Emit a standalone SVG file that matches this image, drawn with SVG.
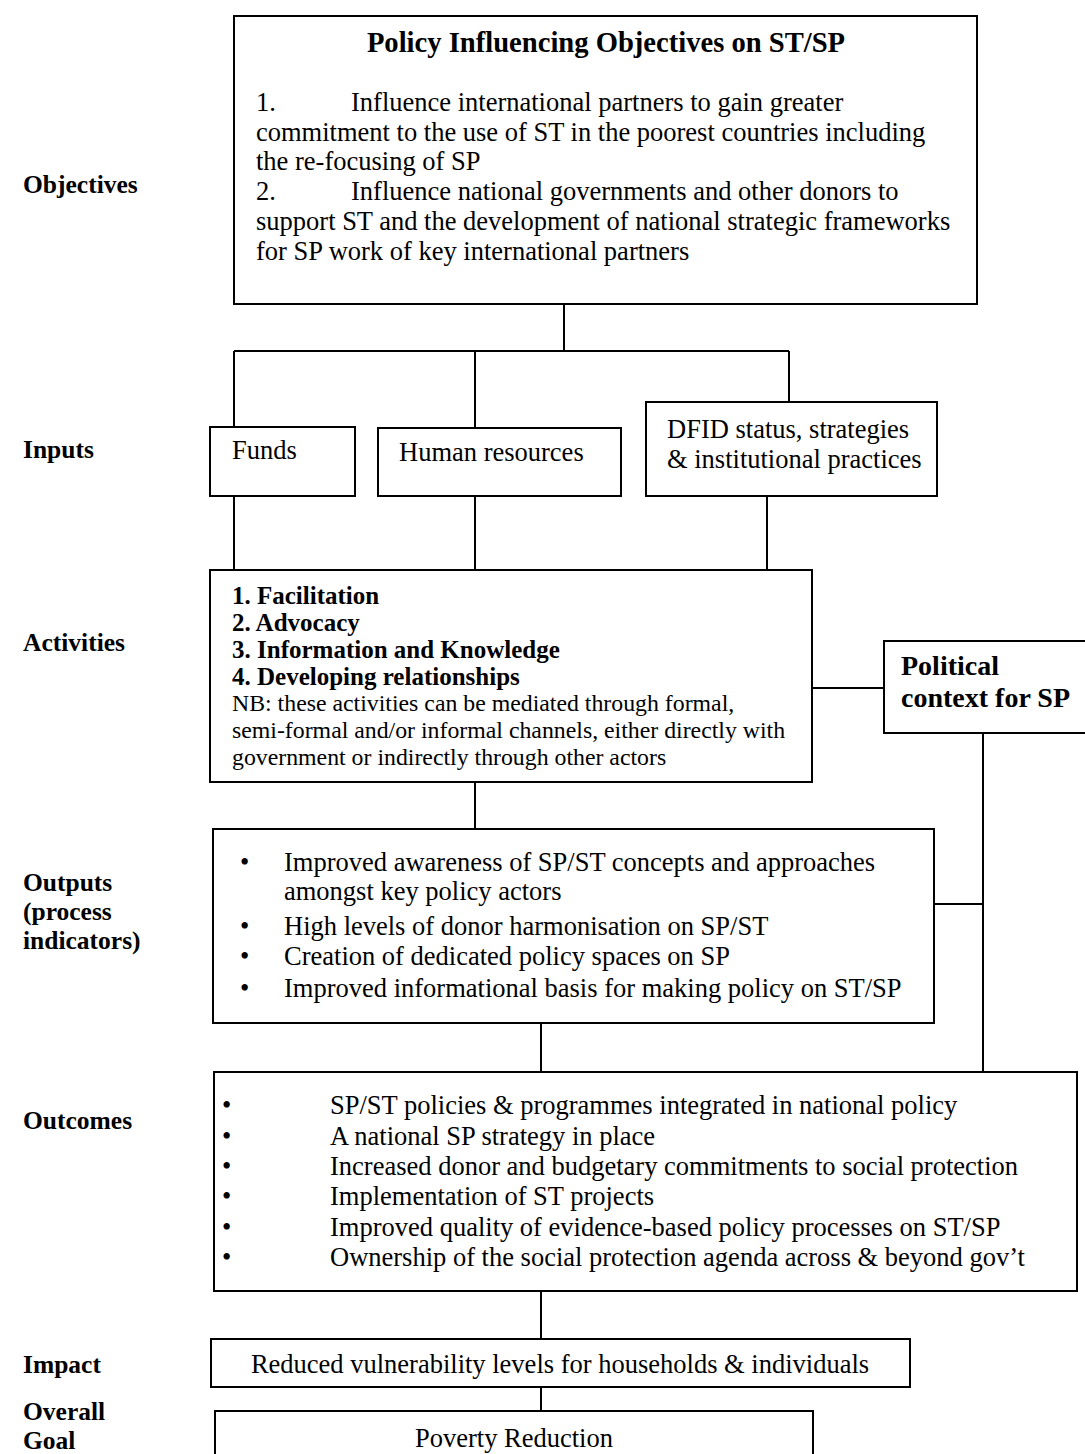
<svg xmlns="http://www.w3.org/2000/svg" width="1085" height="1454" viewBox="0 0 1085 1454">
<style>
  text { font-family: "Liberation Serif", "Times New Roman", serif; fill: #000; }
  .box { fill: #fff; stroke: #000; stroke-width: 2; }
  .conn { fill: none; stroke: #000; stroke-width: 2; }
  .lbl { font-weight: bold; font-size: 25.5px; }
  .body { font-size: 26.5px; }
  .act { font-size: 23.8px; }
  .actb { font-size: 25px; font-weight: bold; }
  .ttl { font-size: 28.6px; font-weight: bold; }
  .pol { font-size: 28px; font-weight: bold; }
</style>
<rect width="1085" height="1454" fill="#fff"/>

<g id="labels">
  <text class="lbl" x="23" y="193">Objectives</text>
  <text class="lbl" x="23" y="458">Inputs</text>
  <text class="lbl" x="23" y="651">Activities</text>
  <text class="lbl" x="23" y="891">Outputs</text>
  <text class="lbl" x="23" y="920">(process</text>
  <text class="lbl" x="23" y="949">indicators)</text>
  <text class="lbl" x="23" y="1129">Outcomes</text>
  <text class="lbl" x="23" y="1373">Impact</text>
  <text class="lbl" x="23" y="1420">Overall</text>
  <text class="lbl" x="23" y="1449">Goal</text>
</g>

<g id="connectors">
  <path class="conn" d="M564,304 V351 M234,351 H789 M234,351 V427 M475,351 V428 M789,351 V402"/>
  <path class="conn" d="M234,496 V570 M475,496 V570 M767,496 V570"/>
  <path class="conn" d="M812,688 H884"/>
  <path class="conn" d="M983,733 V1072 M934,904 H983"/>
  <path class="conn" d="M475,782 V829"/>
  <path class="conn" d="M541,1023 V1072"/>
  <path class="conn" d="M541,1291 V1339"/>
  <path class="conn" d="M541,1387 V1411"/>
</g>

<g id="objectives">
  <rect class="box" x="234" y="16" width="743" height="288"/>
  <text class="ttl" x="606" y="52" text-anchor="middle">Policy Influencing Objectives on ST/SP</text>
  <text class="body" x="256" y="111">1.</text>
  <text class="body" x="351" y="111">Influence international partners to gain greater</text>
  <text class="body" x="256" y="140.7">commitment to the use of ST in the poorest countries including</text>
  <text class="body" x="256" y="170.4">the re-focusing of SP</text>
  <text class="body" x="256" y="200.1">2.</text>
  <text class="body" x="351" y="200.1">Influence national governments and other donors to</text>
  <text class="body" x="256" y="229.8">support ST and the development of national strategic frameworks</text>
  <text class="body" x="256" y="259.5">for SP work of key international partners</text>
</g>

<g id="funds">
  <rect class="box" x="210" y="427" width="145" height="69"/>
  <text class="body" x="232" y="459">Funds</text>
</g>
<g id="human-resources">
  <rect class="box" x="378" y="428" width="243" height="68"/>
  <text class="body" x="399" y="461">Human resources</text>
</g>
<g id="dfid">
  <rect class="box" x="646" y="402" width="291" height="94"/>
  <text class="body" x="667" y="438">DFID status, strategies</text>
  <text class="body" x="667" y="468">&amp; institutional practices</text>
</g>

<g id="activities">
  <rect class="box" x="210" y="570" width="602" height="212"/>
  <text class="actb" x="232" y="604">1. Facilitation</text>
  <text class="actb" x="232" y="631">2. Advocacy</text>
  <text class="actb" x="232" y="658">3. Information and Knowledge</text>
  <text class="actb" x="232" y="685">4. Developing relationships</text>
  <text class="act" x="232" y="711">NB: these activities can be mediated through formal,</text>
  <text class="act" x="232" y="738">semi-formal and/or informal channels, either directly with</text>
  <text class="act" x="232" y="765">government or indirectly through other actors</text>
</g>

<g id="political-context">
  <rect class="box" x="884" y="641" width="210" height="92"/>
  <text class="pol" x="901" y="675">Political</text>
  <text class="pol" x="901" y="707">context for SP</text>
</g>

<g id="outputs">
  <rect class="box" x="213" y="829" width="721" height="194"/>
  <text class="body" x="240" y="871">•</text>
  <text class="body" x="284" y="871">Improved awareness of SP/ST concepts and approaches</text>
  <text class="body" x="284" y="900">amongst key policy actors</text>
  <text class="body" x="240" y="935">•</text>
  <text class="body" x="284" y="935">High levels of donor harmonisation on SP/ST</text>
  <text class="body" x="240" y="965">•</text>
  <text class="body" x="284" y="965">Creation of dedicated policy spaces on SP</text>
  <text class="body" x="240" y="997">•</text>
  <text class="body" x="284" y="997">Improved informational basis for making policy on ST/SP</text>
</g>

<g id="outcomes">
  <rect class="box" x="214" y="1072" width="863" height="219"/>
  <text class="body" x="222" y="1114">•</text>
  <text class="body" x="330" y="1114">SP/ST policies &amp; programmes integrated in national policy</text>
  <text class="body" x="222" y="1145">•</text>
  <text class="body" x="330" y="1145">A national SP strategy in place</text>
  <text class="body" x="222" y="1175">•</text>
  <text class="body" x="330" y="1175">Increased donor and budgetary commitments to social protection</text>
  <text class="body" x="222" y="1205">•</text>
  <text class="body" x="330" y="1205">Implementation of ST projects</text>
  <text class="body" x="222" y="1236">•</text>
  <text class="body" x="330" y="1236">Improved quality of evidence-based policy processes on ST/SP</text>
  <text class="body" x="222" y="1266">•</text>
  <text class="body" x="330" y="1266">Ownership of the social protection agenda across &amp; beyond gov’t</text>
</g>

<g id="impact">
  <rect class="box" x="211" y="1339" width="699" height="48"/>
  <text class="body" x="560" y="1373" text-anchor="middle">Reduced vulnerability levels for households &amp; individuals</text>
</g>

<g id="goal">
  <rect class="box" x="215" y="1411" width="598" height="60"/>
  <text class="body" x="514" y="1447" text-anchor="middle">Poverty Reduction</text>
</g>
</svg>
